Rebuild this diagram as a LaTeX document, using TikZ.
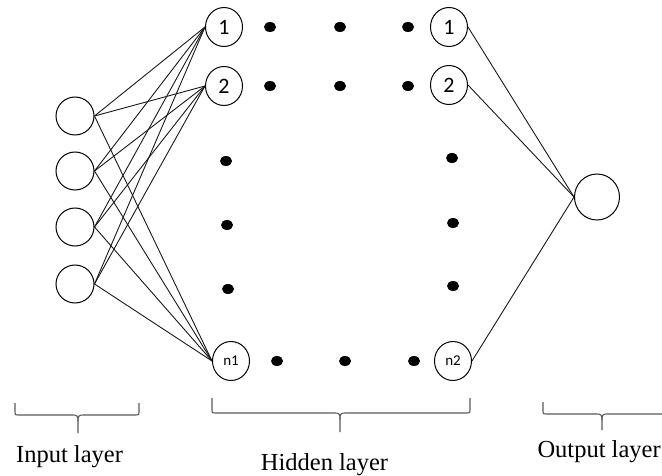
\documentclass[tikz,border=0pt]{standalone}
\usepackage{fontspec}
\setmainfont{Liberation Serif}
\newfontfamily\lblfont{Carlito}
\usetikzlibrary{shapes.geometric}
\begin{document}
\begin{tikzpicture}[x=1pt,y=-1pt,line width=1pt,
  neuron/.style={draw,ellipse,inner sep=0pt,minimum width=38pt,minimum height=38pt},
  hid/.style={draw,ellipse,inner sep=0pt,minimum width=37pt,minimum height=39pt,font=\lblfont\fontsize{22}{22}\selectfont},
  hidsmall/.style={hid,font=\lblfont\fontsize{15}{15}\selectfont},
  outn/.style={draw,ellipse,inner sep=0pt,minimum width=45pt,minimum height=46pt},
  bigdot/.style={fill=black,ellipse,inner sep=0pt,minimum width=12pt,minimum height=10pt},
  conn/.style={line width=0.9pt,black!90},
  lbl/.style={font=\fontsize{24.5}{27}\selectfont,inner sep=0pt,anchor=base},
  bracepath/.style={line width=1.1pt,black!65}]
\useasboundingbox (0,0) rectangle (662,476);

% input layer
\node[neuron] (in1) at (75,116) {};
\node[neuron] (in2) at (75,171) {};
\node[neuron] (in3) at (75,227) {};
\node[neuron] (in4) at (75,284) {};

% hidden layer, left column
\node[hid] (h1) at (224,27) {1};
\node[hid] (h2) at (224,86) {2};
\node[hidsmall] (hn) at (231,361) {n1};

% hidden layer, right column
\node[hid] (o1) at (449,27) {1};
\node[hid] (o2) at (449,85) {2};
\node[hidsmall] (on) at (453,361) {n2};

% output
\node[outn] (out) at (597,197) {};

% dots
\node[bigdot] (d11) at (270,27) {};
\node[bigdot] (d12) at (340,27) {};
\node[bigdot] (d13) at (408,27) {};
\node[bigdot] (d21) at (270,86) {};
\node[bigdot] (d22) at (340,86) {};
\node[bigdot] (d23) at (408,86) {};
\node[bigdot] (dl1) at (226,161) {};
\node[bigdot] (dl2) at (227,225) {};
\node[bigdot] (dl3) at (228,289) {};
\node[bigdot] (dr1) at (452,158) {};
\node[bigdot] (dr2) at (453,223) {};
\node[bigdot] (dr3) at (453,286) {};
\node[bigdot] (db1) at (277,361) {};
\node[bigdot] (db2) at (345,361) {};
\node[bigdot] (db3) at (414,361) {};

% connections
\foreach \i in {1,2,3,4}
  \foreach \h in {h1,h2,hn}
    \draw[conn] (in\i.east) -- (\h.west);
\foreach \h in {o1,o2,on}
  \draw[conn] (\h.east) -- (out.west);

% braces
\draw[bracepath] (15,403) -- (15,412) .. controls (15,415) .. (18,415)
  -- (73,415) .. controls (77,415) and (78,416) .. (78,421) -- (78,433);
\draw[bracepath] (139,403) -- (139,412) .. controls (139,415) .. (136,415)
  -- (83,415) .. controls (79,415) and (78,416) .. (78,421);

\draw[bracepath] (212,398) -- (212,410) .. controls (212,413) .. (215,413)
  -- (335,413) .. controls (339,413) and (340,414) .. (340,419) -- (340,432);
\draw[bracepath] (470,398) -- (470,410) .. controls (470,413) .. (467,413)
  -- (345,413) .. controls (341,413) and (340,414) .. (340,419);

\draw[bracepath] (543,402) -- (543,411) .. controls (543,414) .. (546,414)
  -- (597,414) .. controls (601,414) and (602,415) .. (602,420) -- (602,430);
\draw[bracepath] (667,402) -- (667,411) .. controls (667,414) .. (664,414)
  -- (607,414) .. controls (603,414) and (602,415) .. (602,420);

% labels
\node[lbl] (linput) at (69.5,462) {Input layer};
\node[lbl] (lhidden) at (324.5,470) {Hidden layer};
\node[lbl,anchor=base west] (loutput) at (537,457) {Output layer};
\end{tikzpicture}
\end{document}
